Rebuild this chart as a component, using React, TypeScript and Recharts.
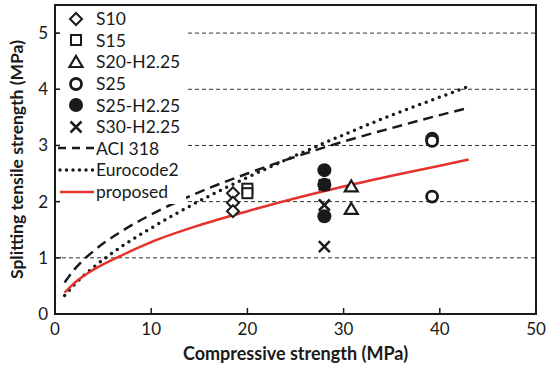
import React from 'react';
import { ComposedChart, Line, Scatter, XAxis, YAxis, CartesianGrid, ReferenceArea, Legend, Label } from 'recharts';

// test groups (compressive strength, splitting tensile strength)
const S10 = [{ x: 18.5, y: 2.15 }, { x: 18.5, y: 1.98 }, { x: 18.5, y: 1.83 }];
const S15 = [{ x: 20.0, y: 2.23 }, { x: 20.0, y: 2.15 }];
const S20H = [{ x: 30.8, y: 2.27 }, { x: 30.8, y: 1.87 }];
const S25 = [{ x: 39.2, y: 3.12 }, { x: 39.2, y: 3.08 }, { x: 39.2, y: 2.09 }];
const S25H = [{ x: 28.0, y: 2.56 }, { x: 28.0, y: 2.3 }, { x: 28.0, y: 1.74 }];
const S30H = [{ x: 28.0, y: 2.3 }, { x: 28.0, y: 1.94 }, { x: 28.0, y: 1.2 }];

// design curves
const curveFc = [1, 2, 4, 7, 10, 15, 20, 25, 30, 35, 40, 43];
const aci318 = [0.56, 0.79, 1.12, 1.48, 1.77, 2.17, 2.5, 2.8, 3.07, 3.31, 3.54, 3.67];
const eurocode2 = [0.33, 0.52, 0.83, 1.21, 1.53, 2.01, 2.43, 2.82, 3.19, 3.54, 3.86, 4.05];
const proposed = [0.38, 0.55, 0.79, 1.05, 1.28, 1.58, 1.83, 2.06, 2.27, 2.46, 2.64, 2.75];

const xTicks = [0, 10, 20, 30, 40, 50];
const yTicks = [0, 1, 2, 3, 4, 5];

const FONT = 'Lato, "Open Sans", sans-serif';
const INK = '#1a1a1a';
const RED = '#e5322b';

const toPts = (ys: number[]) => curveFc.map((x, i) => ({ x, y: ys[i] }));

const XTick = (props: any) => {
  const { x, y, payload } = props;
  return (
    <g>
      <line x1={x} x2={x} y1={y - 7} y2={y - 13} stroke={INK} strokeWidth={1.5} />
      <text x={x} y={y} dy={14} textAnchor="middle" fontSize={17} fontFamily={FONT} fill={INK}>{payload.value}</text>
    </g>
  );
};

const YTick = (props: any) => {
  const { x, y, payload } = props;
  return (
    <g>
      <line x1={x + 7} x2={x + 13} y1={y} y2={y} stroke={INK} strokeWidth={1.5} />
      <text x={x} y={y} dy={6} textAnchor="end" fontSize={17} fontFamily={FONT} fill={INK}>{payload.value}</text>
    </g>
  );
};

// marker shapes
const Diamond = ({ cx, cy }: any) => (
  <path d={`M${cx},${cy - 6} L${cx + 6},${cy} L${cx},${cy + 6} L${cx - 6},${cy} Z`} fill="#fff" stroke={INK} strokeWidth={2} />
);
const Square = ({ cx, cy }: any) => (
  <rect x={cx - 5} y={cy - 5} width={10} height={10} fill="#fff" stroke={INK} strokeWidth={2} />
);
const Triangle = ({ cx, cy }: any) => (
  <path d={`M${cx},${cy - 6} L${cx + 6.5},${cy + 5} L${cx - 6.5},${cy + 5} Z`} fill="#fff" stroke={INK} strokeWidth={2.2} />
);
const OpenCircle = ({ cx, cy }: any) => <circle cx={cx} cy={cy} r={5.5} fill="#fff" stroke={INK} strokeWidth={2.8} />;
const FilledCircle = ({ cx, cy }: any) => <circle cx={cx} cy={cy} r={7} fill={INK} />;
const Cross = ({ cx, cy }: any) => (
  <path d={`M${cx - 5.5},${cy - 5.5} L${cx + 5.5},${cy + 5.5} M${cx + 5.5},${cy - 5.5} L${cx - 5.5},${cy + 5.5}`} stroke={INK} strokeWidth={2.5} />
);

const legendRows = [
  { name: 'S10', icon: <Diamond cx={12} cy={10} /> },
  { name: 'S15', icon: <Square cx={12} cy={10} /> },
  { name: 'S20-H2.25', icon: <Triangle cx={12} cy={10} /> },
  { name: 'S25', icon: <OpenCircle cx={12} cy={10} /> },
  { name: 'S25-H2.25', icon: <FilledCircle cx={12} cy={10} /> },
  { name: 'S30-H2.25', icon: <Cross cx={12} cy={10} /> },
  { name: 'ACI 318', icon: <line x1={-6} x2={30} y1={10} y2={10} stroke={INK} strokeWidth={2.5} strokeDasharray="8 6" /> },
  { name: 'Eurocode2', icon: <line x1={-4} x2={30} y1={10} y2={10} stroke={INK} strokeWidth={3.5} strokeDasharray="0 6.5" strokeLinecap="round" /> },
  { name: 'proposed', icon: <line x1={-4} x2={30} y1={10} y2={10} stroke={RED} strokeWidth={2.5} /> },
];

const renderLegend = () => (
  <div style={{ background: '#fff', padding: '2px 6px 2px 4px', fontFamily: FONT, fontSize: 17.5, color: INK }}>
    {legendRows.map((r) => (
      <div key={r.name} style={{ display: 'flex', alignItems: 'center', height: 21.6 }}>
        <svg width={26} height={20} style={{ overflow: 'visible', marginRight: 6 }}>{r.icon}</svg>
        <span>{r.name}</span>
      </div>
    ))}
  </div>
);

export default function App() {
  return (
    <div style={{ position: 'absolute', left: 0, top: 0, background: '#fff' }}>
      <ComposedChart width={552} height={375} margin={{ top: 5, right: 16, bottom: 0, left: 0 }}>
        <CartesianGrid vertical={false} stroke="#333" strokeDasharray="4 3" strokeWidth={1} />
        <XAxis
          type="number"
          dataKey="x"
          domain={[0, 50]}
          ticks={xTicks}
          height={61}
          tickSize={0}
          tickMargin={7}
          tick={<XTick />}
          axisLine={{ stroke: INK, strokeWidth: 2 }}
          allowDataOverflow
        >
          <Label value="Compressive strength (MPa)" position="insideBottom" offset={15} style={{ fontFamily: FONT, fontSize: 18, fontWeight: 700, fill: INK }} />
        </XAxis>
        <YAxis
          type="number"
          dataKey="y"
          domain={[0, 5.5]}
          ticks={yTicks}
          width={55}
          tickSize={0}
          tickMargin={7}
          tick={<YTick />}
          axisLine={{ stroke: INK, strokeWidth: 2 }}
          allowDataOverflow
        >
          <Label value="Splitting tensile strength (MPa)" angle={-90} position="insideLeft" offset={17} style={{ textAnchor: 'middle', fontFamily: FONT, fontSize: 17.5, fontWeight: 700, fill: INK }} />
        </YAxis>
        <ReferenceArea x1={0} x2={50} y1={0} y2={5.5} fill="none" stroke={INK} strokeWidth={2} ifOverflow="visible" />
        <Line data={toPts(aci318)} dataKey="y" type="monotone" stroke={INK} strokeWidth={2.5} strokeDasharray="10 6" dot={false} isAnimationActive={false} />
        <Line data={toPts(eurocode2)} dataKey="y" type="monotone" stroke={INK} strokeWidth={3.5} strokeDasharray="0 7" strokeLinecap="round" dot={false} isAnimationActive={false} />
        <Line data={toPts(proposed)} dataKey="y" type="monotone" stroke={RED} strokeWidth={2.5} dot={false} isAnimationActive={false} />
        <Scatter data={S10} dataKey="y" shape={<Diamond />} isAnimationActive={false} />
        <Scatter data={S15} dataKey="y" shape={<Square />} isAnimationActive={false} />
        <Scatter data={S20H} dataKey="y" shape={<Triangle />} isAnimationActive={false} />
        <Scatter data={S25} dataKey="y" shape={<OpenCircle />} isAnimationActive={false} />
        <Scatter data={S25H} dataKey="y" shape={<FilledCircle />} isAnimationActive={false} />
        <Scatter data={S30H} dataKey="y" shape={<Cross />} isAnimationActive={false} />
        <Legend layout="vertical" align="center" verticalAlign="middle" content={renderLegend} wrapperStyle={{ left: 60, top: 6, width: 'auto' }} />
      </ComposedChart>
    </div>
  );
}
